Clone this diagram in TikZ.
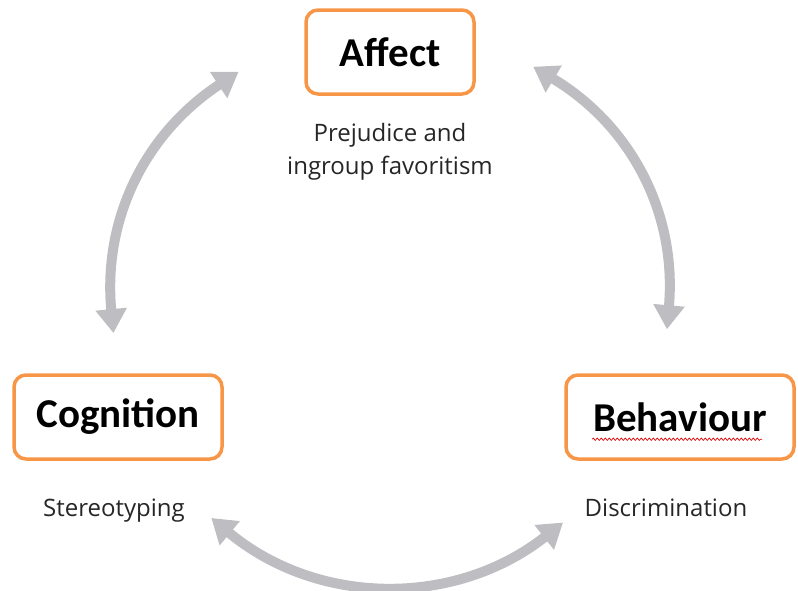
\documentclass[tikz,border=0pt]{standalone}
\usepackage{fontspec}
\setmainfont{Carlito}
\newfontfamily\notefont{Open Sans}
\usetikzlibrary{positioning,arrows.meta,decorations.pathmorphing}
\definecolor{boxorange}{RGB}{247,150,70}
\definecolor{arrowgrey}{RGB}{190,190,194}

\begin{document}
\begin{tikzpicture}[x=1pt,y=1pt,
  boxes/.style={draw=boxorange,line width=3.5pt,rounded corners=12pt,minimum height=84pt,font=\bfseries\fontsize{41}{48}\selectfont,fill=white},
  notes/.style={align=center,inner sep=0pt,font=\notefont\fontsize{24}{33}\selectfont,text=black!85},
  links/.style={draw=arrowgrey,line width=10pt,{Triangle[width=30pt,length=24pt]}-{Triangle[width=30pt,length=24pt]}},
  spell/.style={draw=red!85!black,line width=0.7pt,decorate,decoration={snake,amplitude=1.2pt,segment length=4pt}},
]
\useasboundingbox (0,0) rectangle (798,-590);

\node (affect) [boxes,minimum width=168pt] at (390,-52) {Affect};
\node (cognition) [boxes,minimum width=208pt] at (118,-417) {Cognition};
\node (behaviour) [boxes,minimum width=228pt] at (680,-417) {Behaviour};

\node (prejudice) [notes,below=27pt of affect] {Prejudice and\\ingroup favoritism};
\node (stereotyping) [notes,below=38pt of cognition,xshift=-4pt] {Stereotyping};
\node (discrimination) [notes,below=38pt of behaviour,xshift=-14pt] {Discrimination};

\draw[spell] ([xshift=-88pt,yshift=-8pt]behaviour.base) -- ([xshift=82pt,yshift=-8pt]behaviour.base);

% arrow ends on a circle round the middle
\coordinate (centre) at (390,-305);
\coordinate (cogtop) at ([shift={(185.8:278)}]centre);
\coordinate (affleft) at ([shift={(123:278)}]centre);
\coordinate (affright) at ([shift={(59:278)}]centre);
\coordinate (behtop) at ([shift={(-5:278)}]centre);
\coordinate (behbottom) at ([shift={(-51.5:278)}]centre);
\coordinate (cogbottom) at ([shift={(230:278)}]centre);

\draw[links] (cogtop) to[bend left=31] (affleft);
\draw[links] (affright) to[bend left=32] (behtop);
\draw[links] (behbottom) to[bend left=39] (cogbottom);
\end{tikzpicture}
\end{document}
